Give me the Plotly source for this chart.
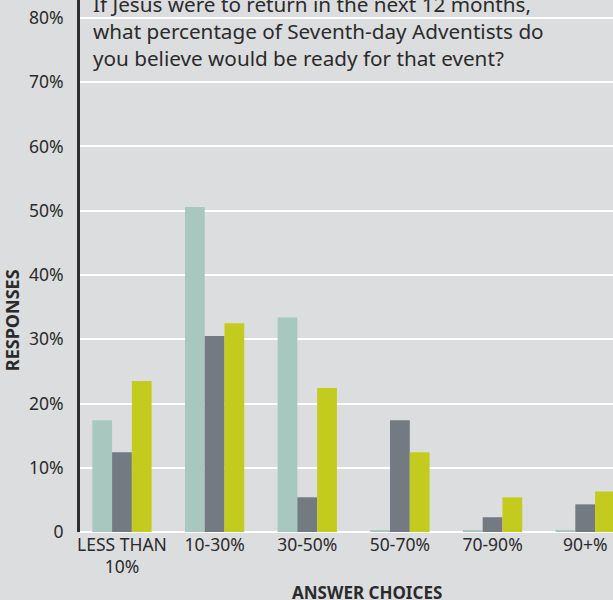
import plotly.graph_objects as go

categories = ["LESS THAN<br>10%", "10-30%", "30-50%", "50-70%", "70-90%", "90+%"]
series_a = [17.4, 50.6, 33.4, 0.3, 0.3, 0.3]
series_b = [12.4, 30.5, 5.4, 17.4, 2.3, 4.3]
series_c = [23.5, 32.5, 22.4, 12.4, 5.4, 6.3]
series_names = ["Series A", "Series B", "Series C"]
colors = ["#a8c8bf", "#737a82", "#c3cc1e"]
y_tickvals = [0, 10, 20, 30, 40, 50, 60, 70, 80]
y_ticktext = ["0", "10%", "20%", "30%", "40%", "50%", "60%", "70%", "80%"]
question = ("If Jesus were to return in the next 12 months,<br>"
            "what percentage of Seventh-day Adventists do<br>"
            "you believe would be ready for that event?")

FONT = "Noto Sans, sans-serif"
BG = "#dcdddf"
TXT = "#2b2b2b"
PLOT_H = 531.7

fig = go.Figure()
for name, vals, col in zip(series_names, [series_a, series_b, series_c], colors):
    fig.add_trace(go.Bar(x=categories, y=vals, name=name, marker_color=col,
                         marker_line_width=0))

fig.update_layout(
    width=613, height=600,
    margin=dict(l=80, r=0, t=0, b=68),
    paper_bgcolor=BG, plot_bgcolor=BG,
    barmode="group", bargap=0.36, bargroupgap=0,
    showlegend=False,
    font=dict(family=FONT, color=TXT, size=17),
)
fig.update_xaxes(range=[-0.453, 5.30], showgrid=False, showline=False,
                 ticks="", tickfont=dict(size=17.5, color=TXT))
fig.update_yaxes(range=[0, 82.8], tickvals=y_tickvals, ticktext=y_ticktext,
                 showgrid=True, gridcolor="#ffffff", gridwidth=1.5,
                 zeroline=True, zerolinecolor="#ffffff", zerolinewidth=2,
                 showline=True, linecolor="#2e2e2e", linewidth=3,
                 ticks="", ticklabelstandoff=10,
                 tickfont=dict(size=17.5, color=TXT))

fig.add_annotation(text=question, xref="paper", yref="paper",
                   x=(91 - 80) / 533, y=(PLOT_H - 31) / PLOT_H,
                   xanchor="left", yanchor="middle",
                   align="left", showarrow=False,
                   font=dict(size=20.7, color=TXT, family=FONT))
fig.add_annotation(text="<b>ANSWER CHOICES</b>", xref="paper", yref="paper",
                   x=(367 - 80) / 533, y=0, xanchor="center", yanchor="middle",
                   yshift=-(592 - PLOT_H), showarrow=False,
                   font=dict(size=17, color=TXT, family=FONT))
fig.add_annotation(text="<b>RESPONSES</b>", xref="paper", yref="paper",
                   x=0, y=(PLOT_H - 320) / PLOT_H, xanchor="center", yanchor="middle",
                   xshift=-68, textangle=-90, showarrow=False,
                   font=dict(size=18, color=TXT, family=FONT))

fig.write_html("out.html", config={"displayModeBar": False},
               post_script="document.body.style.margin='0';")
